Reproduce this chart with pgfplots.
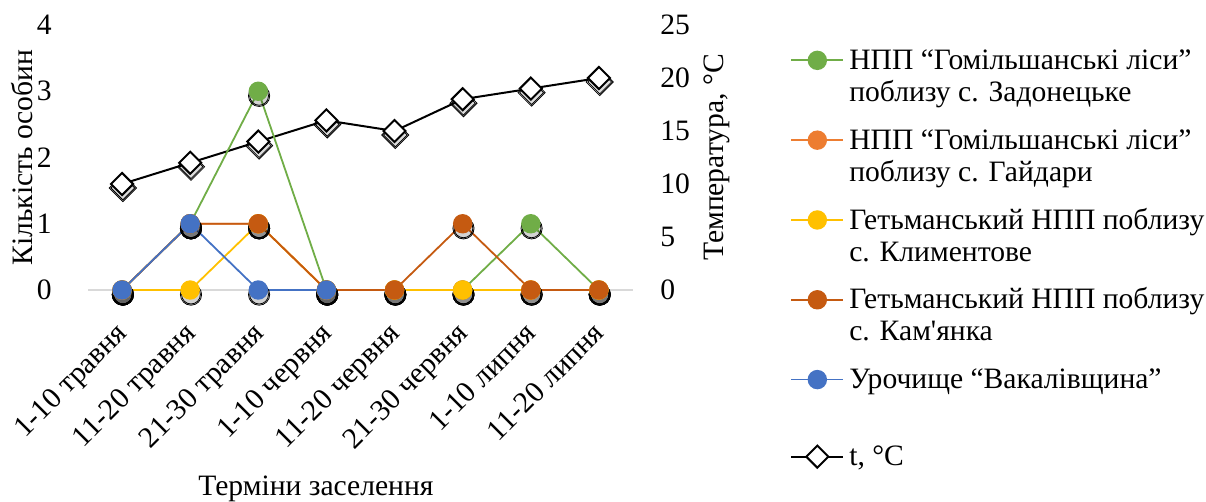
\documentclass[border=0pt]{standalone}
\usepackage{fontspec}
\setmainfont{Liberation Serif}
\usepackage{pgfplots}
\usepackage{pgfplotstable}
\pgfplotsset{compat=1.18}

\definecolor{cGreen}{HTML}{70AD47}
\definecolor{cOrange}{HTML}{ED7D31}
\definecolor{cYellow}{HTML}{FFC000}
\definecolor{cRust}{HTML}{C55A11}
\definecolor{cBlue}{HTML}{4472C4}

% counts per site and mean temperature by ten-day period
\pgfplotstableread{
x green orange yellow rust blue temp
0 0 0 0 0 0 10
1 1 1 0 1 1 12
2 3 1 1 1 0 14
3 0 0 0 0 0 16
4 0 0 0 0 nan 15
5 0 0 0 1 nan 18
6 1 0 0 0 nan 19
7 0 0 0 0 nan 20
}\datatable

\pgfplotsset{
  base/.style={
    scale only axis, width=272.5bp, height=132.5bp,
    at={(0,0)}, anchor=south west,
    xmin=-0.5, xmax=7.5, clip=false,
    /pgf/number format/assume math mode=true,
    major tick length=0pt, tick style={draw=none},
    unbounded coords=jump,
  },
  % soft drop shadow under round markers
  shadow/.style={only marks, mark=*, forget plot, mark size=#1,
    mark options={xshift=0.4bp, yshift=-2.3bp, draw=none, fill=black, fill opacity=0.09}},
  dshadow/.style={only marks, mark=square*, forget plot, mark size=#1,
    mark options={xshift=0.4bp, yshift=-2bp, rotate=45, draw=none, fill=black, fill opacity=0.07}},
  series/.style={color=#1, line width=0.9bp, mark=*, mark size=4.4bp,
    mark options={fill=#1, draw=#1}},
  tstyle/.style={black, line width=1bp, mark=square*, mark size=3.9bp,
    mark options={rotate=45, fill=white, draw=black, line width=1bp}},
}

\begin{document}
\fontsize{14.8bp}{16bp}\selectfont
\begin{tikzpicture}
\path[use as bounding box] (-44bp,-106bp) rectangle (559bp,145bp);

% temperature, right-hand scale
\begin{axis}[base,
  ymin=0, ymax=25, ytick={0,5,...,25}, xtick=\empty,
  axis y line*=right, axis x line*=bottom,
  y axis line style={draw=none},
  x axis line style={draw=black!15, line width=0.9bp, -},
  yticklabel style={anchor=west, inner sep=0pt, xshift=13.5bp},
  ylabel={Температура, °C},
  ylabel style={at={(axis description cs:1.1541,0.5)}, anchor=center},
]
\addplot[dshadow=4.8bp] table[x=x,y=temp]{\datatable};
\addplot[dshadow=4.2bp] table[x=x,y=temp]{\datatable};
\addplot[tstyle] table[x=x,y=temp]{\datatable};
\end{axis}

% number of individuals, left-hand scale
\begin{axis}[base,
  ymin=0, ymax=4, ytick={0,...,4},
  xtick={0,...,7},
  xticklabels={1-10 травня, 11-20 травня, 21-30 травня, 1-10 червня,
    11-20 червня, 21-30 червня, 1-10 липня, 11-20 липня},
  axis x line*=bottom, axis y line*=left,
  x axis line style={draw=none}, y axis line style={draw=none},
  yticklabel style={anchor=east, inner sep=0pt, xshift=-18bp},
  xticklabel style={xshift=1bp, yshift=-20bp, rotate=45, anchor=east,
    inner sep=0pt, text height=0.68em, text depth=0.22em},
  xlabel={Терміни заселення},
  xlabel style={at={(axis description cs:0.4183,-0.752)}, anchor=center},
  ylabel={Кількість особин},
  ylabel style={at={(axis description cs:-0.1211,0.5)}, anchor=center},
  legend style={at={(1.288,0.933)}, anchor=north west, draw=none, fill=none,
    inner sep=0pt, row sep=22.5bp, column sep=0.5bp,
    cells={anchor=base west, inner sep=0pt}},
  legend image code/.code={%
    \draw[mark repeat=2, mark phase=2, #1]
      plot coordinates {(0bp,4.6bp) (13bp,4.6bp) (26bp,4.6bp)};},
]
\pgfplotsinvokeforeach{green,orange,yellow,rust,blue}{
  \addplot[shadow=5.3bp] table[x=x,y=#1]{\datatable};
  \addplot[shadow=4.7bp] table[x=x,y=#1]{\datatable};
}
\addplot[series=cGreen] table[x=x,y=green]{\datatable};
\addlegendentry{\begin{tabular}[t]{@{}l@{}}НПП “Гомільшанські ліси”\\поблизу с. Задонецьке\end{tabular}}
\addplot[series=cOrange] table[x=x,y=orange]{\datatable};
\addlegendentry{\begin{tabular}[t]{@{}l@{}}НПП “Гомільшанські ліси”\\поблизу с. Гайдари\end{tabular}}
\addplot[series=cYellow] table[x=x,y=yellow]{\datatable};
\addlegendentry{\begin{tabular}[t]{@{}l@{}}Гетьманський НПП поблизу\\с. Климентове\end{tabular}}
\addplot[series=cRust] table[x=x,y=rust]{\datatable};
\addlegendentry{\begin{tabular}[t]{@{}l@{}}Гетьманський НПП поблизу\\с. Кам\textquotesingle янка\end{tabular}}
\addplot[series=cBlue] table[x=x,y=blue]{\datatable};
\addlegendentry{\begin{tabular}[t]{@{}l@{}}Урочище “Вакалівщина”\\\mbox{}\end{tabular}}
\addlegendimage{tstyle}
\addlegendentry{t, °C}
\end{axis}
\end{tikzpicture}
\end{document}
